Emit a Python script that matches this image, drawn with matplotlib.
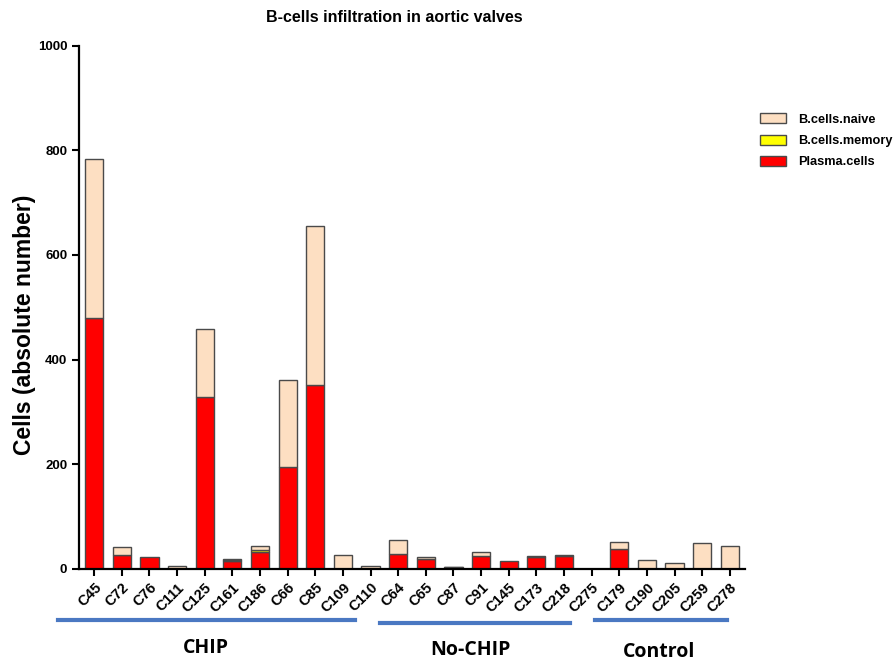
import numpy as np
import matplotlib.pyplot as plt
from matplotlib.lines import Line2D
from matplotlib.patches import Patch

plt.rcParams['font.family'] = ['Liberation Sans', 'DejaVu Sans']

samples = ["C45", "C72", "C76", "C111", "C125", "C161", "C186", "C66", "C85", "C109",
           "C110", "C64", "C65", "C87", "C91", "C145", "C173", "C218", "C275",
           "C179", "C190", "C205", "C259", "C278"]
plasma = [479, 27, 23, 0, 329, 15, 32, 195, 351, 0, 0, 28, 18, 3, 24, 15, 22, 25, 0,
          38, 0, 0, 0, 0]
memory = [0, 0, 0, 0, 0, 2, 3, 0, 0, 0, 0, 0, 0, 0, 0, 0, 0, 0, 0, 0, 0, 0, 0, 0]
naive = [304, 15, 0, 6, 129, 1, 8, 166, 304, 27, 5, 26, 5, 1, 8, 0, 2, 1, 0,
         13, 17, 10, 50, 44]

groups = ["CHIP", "No-CHIP", "Control"]

W, H = 893, 662
fig = plt.figure(figsize=(W / 100, H / 100), dpi=100)
ax = fig.add_axes([79 / W, 1 - 568.7 / H, (745 - 79) / W, (568.7 - 45.7) / H])

x = np.arange(len(samples))
plasma = np.array(plasma, float)
memory = np.array(memory, float)
naive = np.array(naive, float)
bw = 0.66
ec = "#4a4a4a"


def lw(vals):
    return [1.0 if v > 0 else 0 for v in vals]


ax.bar(x, plasma, bw, color="#ff0000", edgecolor=ec, linewidth=lw(plasma))
ax.bar(x, memory, bw, bottom=plasma, color="#ffff00", edgecolor=ec, linewidth=lw(memory))
ax.bar(x, naive, bw, bottom=plasma + memory, color="#fddfc2", edgecolor=ec, linewidth=lw(naive))

ax.set_xlim(-0.55, len(samples) - 0.45)
ax.set_ylim(0, 1000)
ax.set_yticks([0, 200, 400, 600, 800, 1000])
ax.set_xticks(x)
ax.set_xticklabels(samples, rotation=45, ha="right", rotation_mode="anchor",
                   fontsize=10.5, fontweight="bold")
for t in ax.get_yticklabels():
    t.set_fontweight("bold")
    t.set_fontsize(9.5)
ax.tick_params(axis="both", direction="out", length=5, width=1.5, color="black")
ax.spines["top"].set_visible(False)
ax.spines["right"].set_visible(False)
ax.spines["left"].set_linewidth(1.6)
ax.spines["bottom"].set_linewidth(1.6)

# y label sits a little below the axis centre in the original
fig.text(25 / W, 1 - 325 / H, "Cells (absolute number)", rotation=90,
         ha="center", va="center", fontsize=16.5, fontweight="bold")
fig.text(394 / W, 1 - 18 / H, "B-cells infiltration in aortic valves",
         ha="center", va="center", fontsize=11.5, fontweight="bold")

handles = [Patch(facecolor="#fddfc2", edgecolor=ec, label="B.cells.naive"),
           Patch(facecolor="#ffff00", edgecolor=ec, label="B.cells.memory"),
           Patch(facecolor="#ff0000", edgecolor=ec, label="Plasma.cells")]
fig.legend(handles=handles, loc="upper left", bbox_to_anchor=(748 / W, 1 - 102 / H),
           frameon=False, handlelength=2.1, handleheight=0.8, handletextpad=0.9,
           labelspacing=0.7, prop={"weight": "bold", "size": 9.2})

# group brackets under the axis
spans = [(58, 355, 620), (380, 570, 623), (595, 727, 620)]
label_pos = [(206, 648), (470, 650), (659, 652)]
for (x0, x1, yy), (lx, ly), name in zip(spans, label_pos, groups):
    fig.add_artist(Line2D([x0 / W, x1 / W], [1 - yy / H, 1 - yy / H],
                          color="#4a78c2", linewidth=3))
    fig.text(lx / W, 1 - ly / H, name, ha="center", va="center",
             fontsize=14, fontweight="bold", family=["Open Sans", "DejaVu Sans"])

fig.savefig("out.png", dpi=100)
